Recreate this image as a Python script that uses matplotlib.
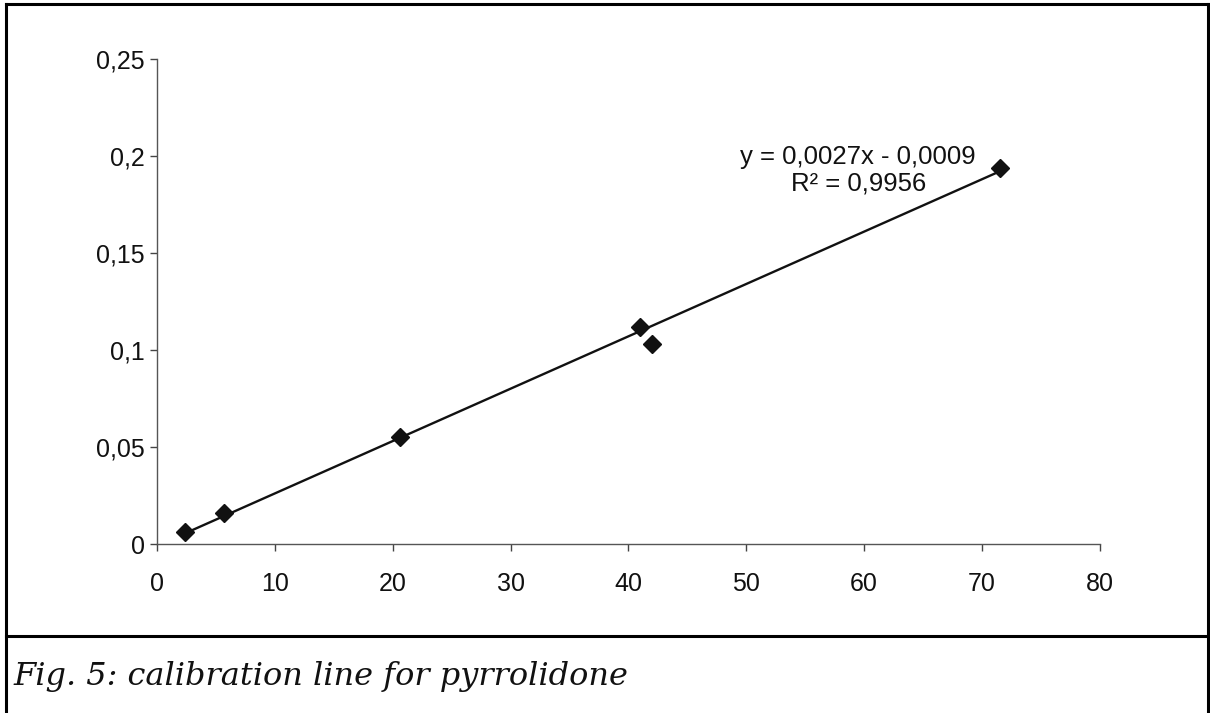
import numpy as np
import matplotlib
matplotlib.use("Agg")
from matplotlib import pyplot as plt
from matplotlib.ticker import FuncFormatter

# calibration points
conc = [2.4, 5.7, 20.6, 41.0, 42.0, 71.5]
absorb = [0.006, 0.016, 0.055, 0.112, 0.103, 0.194]

slope = 0.0027
intercept = -0.0009
r2 = 0.9956

x_ticks = [0, 10, 20, 30, 40, 50, 60, 70, 80]
y_ticks = [0, 0.05, 0.1, 0.15, 0.2, 0.25]
caption = "Fig. 5: calibration line for pyrrolidone"

plt.rcParams['font.family'] = ['Liberation Sans', 'DejaVu Sans']

fig = plt.figure(figsize=(12.1, 7.13), dpi=100)
ax = fig.add_axes([0.1298, 0.237, 0.909 - 0.1298, 0.917 - 0.237])

xs = np.array([min(conc), max(conc)])
ax.plot(xs, slope * xs + intercept, color='#111111', lw=1.7, zorder=2)
ax.plot(conc, absorb, linestyle='none', marker='D', ms=9, color='#111111', zorder=3)

ax.set_xlim(0, 80)
ax.set_ylim(0, 0.25)
ax.set_xticks(x_ticks)
ax.set_yticks(y_ticks)
ax.yaxis.set_major_formatter(FuncFormatter(lambda v, p: ("%g" % v).replace('.', ',')))
ax.tick_params(labelsize=18, length=5, width=1, color='#444444', labelcolor='#111111')
ax.tick_params(axis='x', pad=15)
ax.tick_params(axis='y', pad=4)
for side in ['top', 'right']:
    ax.spines[side].set_visible(False)
for side in ['left', 'bottom']:
    ax.spines[side].set_color('#555555')
    ax.spines[side].set_linewidth(1.0)

eq = "y = %s" % (("%.4fx - %.4f" % (slope, -intercept)).replace('.', ','))
ax.text(59.5, 0.1995, eq, fontsize=18.5, ha='center', va='center', color='#111111')
ax.text(59.5, 0.186, "R² = %s" % ("%.4f" % r2).replace('.', ','), fontsize=18.5,
        ha='center', va='center', color='#111111')

# frame around figure and caption
frame = dict(color='black', lw=2.2, transform=fig.transFigure, clip_on=False)
fig.add_artist(plt.Line2D([0.005, 0.005], [0, 0.994], **frame))
fig.add_artist(plt.Line2D([0.005, 0.998], [0.994, 0.994], **frame))
fig.add_artist(plt.Line2D([0.998, 0.998], [0, 0.994], **frame))
fig.add_artist(plt.Line2D([0.005, 0.998], [1 - 636 / 713, 1 - 636 / 713], **frame))
fig.text(0.011, 1 - 676 / 713, caption, fontsize=23, style='italic',
         family='DejaVu Serif', va='center', ha='left', color='#111111')

fig.savefig("out.png", dpi=100)
